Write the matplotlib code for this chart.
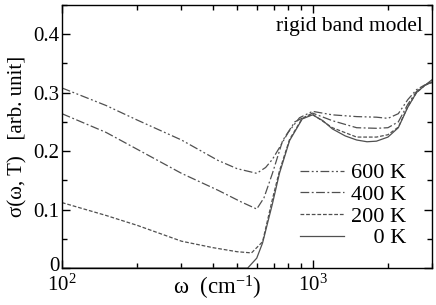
import matplotlib
matplotlib.use("Agg")
import matplotlib.pyplot as plt
import matplotlib.ticker as mticker
from matplotlib.transforms import ScaledTranslation

plt.rcParams["font.family"] = ["Liberation Serif", "DejaVu Serif"]
plt.rcParams["mathtext.fontset"] = "custom"
plt.rcParams["mathtext.rm"] = "Liberation Serif"
plt.rcParams["mathtext.it"] = "Liberation Serif:italic"

# optical conductivity
w_600 = [100, 150, 200, 300, 420, 500, 599, 650, 692, 738, 800, 887, 1000,
         1200, 1500, 1800, 2000, 2200, 2400, 2600, 2800, 3000]
s_600 = [0.308, 0.278, 0.253, 0.219, 0.184, 0.170, 0.162, 0.172, 0.186, 0.206,
         0.232, 0.257, 0.268, 0.262, 0.259, 0.258, 0.256, 0.264, 0.288, 0.305,
         0.313, 0.317]

w_400 = [100, 150, 200, 300, 420, 520, 599, 640, 692, 760, 850, 1000,
         1200, 1500, 1800, 2000, 2200, 2400, 2600, 2800, 3000]
s_400 = [0.264, 0.232, 0.203, 0.162, 0.133, 0.113, 0.101, 0.120, 0.162, 0.218,
         0.250, 0.265, 0.252, 0.240, 0.239, 0.240, 0.250, 0.280, 0.302, 0.312,
         0.318]

w_200 = [100, 150, 200, 300, 400, 500, 571, 632, 692, 738, 810, 910, 1000,
         1200, 1500, 1800, 2000, 2200, 2400, 2600, 2800, 3000]
s_200 = [0.112, 0.090, 0.073, 0.046, 0.035, 0.028, 0.026, 0.045, 0.118, 0.166,
         0.220, 0.256, 0.263, 0.240, 0.224, 0.224, 0.228, 0.241, 0.276, 0.300,
         0.312, 0.320]

w_0 = [100, 551, 599, 632, 692, 738, 810, 910, 1000, 1100, 1200, 1350, 1500,
       1650, 1800, 2000, 2200, 2400, 2600, 2800, 3000]
s_0 = [0.0, 0.0, 0.017, 0.043, 0.110, 0.162, 0.218, 0.255, 0.262, 0.252, 0.238,
       0.226, 0.219, 0.216, 0.217, 0.224, 0.240, 0.275, 0.300, 0.312, 0.322]

labels = ["600 K", "400 K", "200 K", "    0 K"]
styles = [(0, (7, 2, 1.5, 2, 1.5, 2)), (0, (7, 2, 1.5, 2)), (0, (3, 1.5)), "-"]

fig = plt.figure(figsize=(4.36, 3.05), dpi=100)
ax = fig.add_axes([0.142, 0.121, 0.849, 0.863])

col = "#505050"
for w, s, lab, ls in zip([w_600, w_400, w_200, w_0], [s_600, s_400, s_200, s_0],
                         labels, styles):
    ax.plot(w, s, color=col, lw=0.9, linestyle=ls, label=lab)

ax.set_xscale("log")
ax.set_xlim(100, 3000)
ax.set_ylim(0, 0.45)

ax.xaxis.set_major_locator(mticker.FixedLocator([100, 1000]))
ax.xaxis.set_major_formatter(mticker.FixedFormatter(["10$^{2}$", "10$^{3}$"]))
ax.xaxis.set_minor_locator(mticker.LogLocator(base=10, subs=range(2, 10)))
ax.xaxis.set_minor_formatter(mticker.NullFormatter())
ax.yaxis.set_major_locator(mticker.FixedLocator([0, 0.1, 0.2, 0.3, 0.4]))
ax.yaxis.set_major_formatter(mticker.FixedFormatter(["0", "0.1", "0.2", "0.3", "0.4"]))
ax.yaxis.set_minor_locator(mticker.MultipleLocator(0.05))

ax.tick_params(which="both", direction="in", top=True, right=True, width=1)
ax.tick_params(which="major", length=6, labelsize=15)
ax.tick_params(axis="x", which="major", pad=5)
ax.tick_params(axis="y", which="major", pad=2)
ax.tick_params(which="minor", length=3.5)
for sp in ax.spines.values():
    sp.set_linewidth(1.0)

# nudge the "0" label up a little, like the original
fig.canvas.draw()
lab0 = ax.yaxis.get_major_ticks()[0].label1
lab0.set_transform(lab0.get_transform() + ScaledTranslation(0, 3 / 72, fig.dpi_scale_trans))

ax.set_xlabel("ω  (cm$^{-1}$)", fontsize=16.5)
ax.xaxis.set_label_coords(0.42, -0.022)
ax.set_ylabel("σ(ω, T)   [arb. unit]", fontsize=15, labelpad=4)

ax.text(0.975, 0.955, "rigid band model", transform=ax.transAxes,
        ha="right", va="top", fontsize=15.5)

ax.legend(loc="lower right", bbox_to_anchor=(0.93, 0.075), frameon=False,
          fontsize=16, handlelength=2.0, handletextpad=0.3, labelspacing=0.05,
          borderaxespad=0.0, borderpad=0.0)

fig.savefig("out.png", dpi=100)
